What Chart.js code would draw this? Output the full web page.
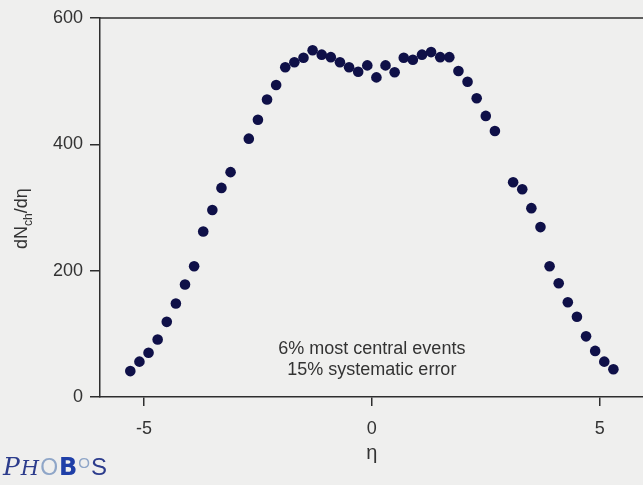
<!DOCTYPE html>
<html>
<head>
<meta charset="utf-8">
<script src="https://cdn.jsdelivr.net/npm/chart.js@4/dist/chart.umd.min.js"></script>
<style>
  html, body { margin: 0; padding: 0; background: #efefee; overflow: hidden; }
  #wrap { width: 649px; height: 485px; position: relative; }
</style>
</head>
<body>
<div id="wrap"><canvas id="dndeta"></canvas></div>
<script>
// pseudorapidity bins (no points at +-2.9)
const etaValues = [
  -5.3, -5.1, -4.9, -4.7, -4.5, -4.3, -4.1, -3.9, -3.7, -3.5, -3.3, -3.1,
  -2.7, -2.5, -2.3, -2.1, -1.9, -1.7, -1.5, -1.3, -1.1, -0.9, -0.7, -0.5, -0.3, -0.1,
  0.1, 0.3, 0.5, 0.7, 0.9, 1.1, 1.3, 1.5, 1.7, 1.9, 2.1, 2.3, 2.5, 2.7,
  3.1, 3.3, 3.5, 3.7, 3.9, 4.1, 4.3, 4.5, 4.7, 4.9, 5.1, 5.3
]
const dNdEta = [
  41, 56, 70, 91, 119, 148, 178, 207, 262, 296, 331, 356,
  409, 439, 471, 494, 522, 530, 537, 549, 542, 538, 530, 522, 515, 525,
  506, 525, 514, 537, 534, 542, 546, 538, 538, 516, 499, 473, 445, 421,
  340, 329, 299, 269, 207, 180, 150, 127, 96, 73, 56, 44
]
const xTicks = [-5, 0, 5]
const yTicks = [0, 200, 400, 600]
const noteLines = ["6% most central events", "15% systematic error"]

const axisColor = '#2e2e2e'
const textColor = '#333333'
const fontFamily = "'Liberation Sans', Arial, sans-serif"

const points = etaValues.map(function(eta, i) {
  return {x: eta, y: dNdEta[i]}
})

// top frame line, y axis title with subscript, note text and logo
const extras = {
  id: 'extras',
  afterDraw: function(chart) {
    const ctx = chart.ctx
    const area = chart.chartArea
    const xs = chart.scales.x
    const ys = chart.scales.y

    ctx.save()
    ctx.strokeStyle = axisColor
    ctx.lineWidth = 1.5
    ctx.beginPath()
    ctx.moveTo(area.left, area.top)
    ctx.lineTo(area.right, area.top)
    ctx.stroke()

    ctx.fillStyle = textColor
    ctx.textAlign = 'center'
    ctx.textBaseline = 'alphabetic'
    ctx.font = '18px ' + fontFamily
    ctx.fillText(noteLines[0], xs.getPixelForValue(0), ys.getPixelForValue(68))
    ctx.fillText(noteLines[1], xs.getPixelForValue(0), ys.getPixelForValue(35))

    // dN_ch/deta, rotated
    ctx.translate(27, 249)
    ctx.rotate(-Math.PI / 2)
    ctx.textAlign = 'left'
    let x = 0
    ctx.font = '18px ' + fontFamily
    ctx.fillText('dN', x, 0)
    x += ctx.measureText('dN').width
    ctx.font = '12px ' + fontFamily
    ctx.fillText('ch', x, 5)
    x += ctx.measureText('ch').width
    ctx.font = '18px ' + fontFamily
    ctx.fillText('/d\u03b7', x, 0)
    ctx.restore()

    // logo
    ctx.save()
    ctx.textBaseline = 'alphabetic'
    ctx.textAlign = 'left'
    let lx = 3
    const parts = [
      ['P', 'italic 25px DejaVu Serif', '#2c3c8c', 0],
      ['H', 'italic 21px DejaVu Serif', '#2c3c8c', 0],
      ['O', '23px ' + fontFamily, '#8fa6c8', 0],
      ['B', 'bold 24px DejaVu Sans', '#1f3fa8', 0],
      ['O', '15px ' + fontFamily, '#8fa6c8', -7],
      ['S', '24px ' + fontFamily, '#2c3c8c', 0]
    ]
    parts.forEach(function(p) {
      ctx.font = p[1]
      ctx.fillStyle = p[2]
      ctx.fillText(p[0], lx, 475 + p[3])
      lx += ctx.measureText(p[0]).width + 1
    })
    ctx.restore()
  }
}

const config = {
  type: 'scatter',
  data: {
    datasets: [{
      label: 'dNch/deta',
      data: points,
      backgroundColor: '#0f1048',
      borderWidth: 0,
      pointRadius: 5.3,
      showLine: false
    }]
  },
  options: {
    responsive: true,
    maintainAspectRatio: false,
    animation: false,
    layout: {padding: {top: 18, right: 0, left: 0, bottom: 0}},
    plugins: {
      legend: {display: false},
      tooltip: {enabled: false}
    },
    scales: {
      x: {
        type: 'linear',
        min: -5.965,
        max: 5.965,
        afterBuildTicks: function(scale) {
          scale.ticks = xTicks.map(function(v) { return {value: v} })
        },
        afterFit: function(scale) { scale.height = 88 },
        grid: {
          drawOnChartArea: false,
          drawTicks: true,
          tickLength: 9,
          color: axisColor,
          lineWidth: 1.5
        },
        border: {color: axisColor, width: 1.5},
        ticks: {
          color: textColor,
          font: {size: 18, family: fontFamily},
          padding: 12,
          maxRotation: 0
        },
        title: {
          display: true,
          text: '\u03b7',
          color: textColor,
          font: {size: 20, family: fontFamily},
          padding: {top: 0, bottom: 20}
        }
      },
      y: {
        min: 0,
        max: 600,
        afterBuildTicks: function(scale) {
          scale.ticks = yTicks.map(function(v) { return {value: v} })
        },
        afterFit: function(scale) { scale.width = 100 },
        grid: {
          drawOnChartArea: false,
          drawTicks: true,
          tickLength: 10,
          color: axisColor,
          lineWidth: 1.5
        },
        border: {color: axisColor, width: 1.5},
        ticks: {
          color: textColor,
          font: {size: 18, family: fontFamily},
          padding: 7
        }
      }
    }
  },
  plugins: [extras]
}

new Chart(document.getElementById('dndeta'), config)
</script>
</body>
</html>
